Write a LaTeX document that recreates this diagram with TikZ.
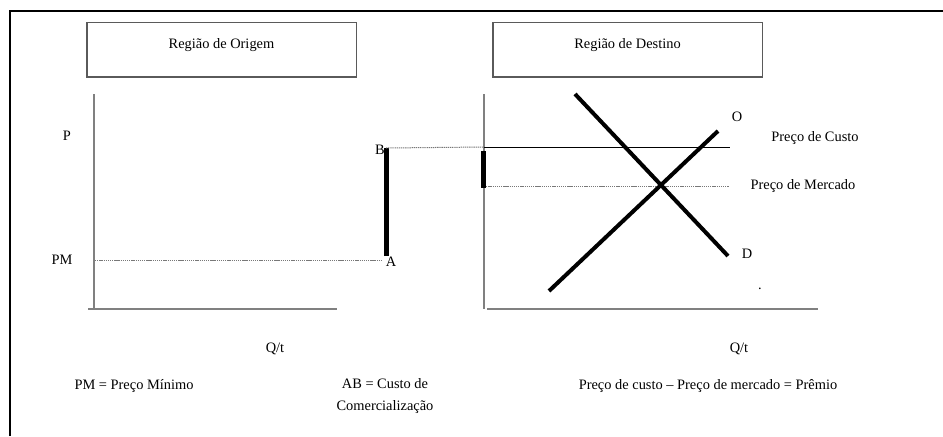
\documentclass[tikz,border=0pt]{standalone}
\usepackage{fontspec}
\setmainfont{Liberation Serif}
\tikzset{every picture/.style={line width=0.75pt}}
\tikzset{
  lbl/.style={inner sep=0.75pt, font=\fontsize{10.8}{13}\selectfont},
  regbox/.style={draw={rgb, 255:red, 90; green, 90; blue, 90}, line width=1pt, minimum width=202pt, minimum height=41pt, text height=7pt, text depth=9pt, inner sep=0pt, font=\fontsize{10.8}{13}\selectfont},
  eixo/.style={draw={rgb, 255:red, 128; green, 128; blue, 128}, line width=1pt},
  pont/.style={draw={rgb, 255:red, 120; green, 120; blue, 120}, dash pattern={on 1pt off 0.6pt}},
  curva/.style={line width=3pt},
  barra/.style={line width=3.75pt}
}

\begin{document}
\begin{tikzpicture}[x=0.75pt,y=0.75pt,yscale=-1,xscale=1]
\useasboundingbox (0,0) rectangle (943,436);

%Frame
\draw [line width=1.5pt]  (10,436) -- (10,11) -- (943,11) ;

%Shape: Rectangle
\node [regbox] (origem) at (221.5,49.5) {Região de Origem};
%Shape: Rectangle
\node [regbox] (destino) at (627.5,49.5) {Região de Destino};

%Shape: Axis 2D (origem)
\draw [eixo]  (94,94) -- (94,309) ;
\draw [eixo]  (88,309) -- (337,309) ;
%Shape: Axis 2D (destino)
\draw [eixo]  (484,94) -- (484,309) ;
\draw [eixo]  (487,309) -- (818,309) ;

%Coordinates
\coordinate (pmIni) at (95,260) ;
\coordinate (pmFim) at (382,260) ;
\coordinate (A) at (386,256) ;
\coordinate (B) at (386,148) ;
\coordinate (custoIni) at (484,147) ;
\coordinate (custoFim) at (730,147) ;
\coordinate (mercIni) at (484,186) ;
\coordinate (mercFim) at (729,186) ;
\coordinate (dIni) at (575,94) ;
\coordinate (dFim) at (728,256) ;
\coordinate (oIni) at (549,291) ;
\coordinate (oFim) at (718,131) ;

%Straight Lines
\draw [pont]  (pmIni) -- (pmFim) ;
\draw [barra]  (A) -- (B) ;
\draw [pont]  (B) -- (custoIni) ;
\draw  (custoIni) -- (custoFim) ;
\draw [pont]  (mercIni) -- (mercFim) ;
\draw [barra]  (483,151) -- (483,188) ;
%Curve Lines
\draw [curva]  (dIni) -- (dFim) ;
\draw [curva]  (oIni) -- (oFim) ;

% Text Node
\node [lbl] (p) at (67,136) {P};
% Text Node
\node [lbl] (pm) at (62,260) {PM};
% Text Node
\node [lbl] (b) at (380,150) {B};
% Text Node
\node [lbl] (a) at (391,262) {A};
% Text Node
\node [lbl] (o) at (737,117) {O};
% Text Node
\node [lbl] (d) at (747,254) {D};
% Text Node
\node [lbl] (custo) at (815,138) {Preço de Custo};
% Text Node
\node [lbl] (merc) at (803,186) {Preço de Mercado};
% Text Node
\node [lbl] (ponto) at (760,289) {.};
% Text Node
\node [lbl] (qt1) at (275,349) {Q/t};
% Text Node
\node [lbl] (qt2) at (739,349) {Q/t};
% Text Node
\node [lbl] (legpm) at (134,386) {PM = Preço Mínimo};
% Text Node
\node [lbl, align=center] (legab) at (385,396) {AB = Custo de\\[3pt]Comercialização};
% Text Node
\node [lbl] (legpr) at (708,386) {Preço de custo – Preço de mercado = Prêmio};

\end{tikzpicture}
\end{document}
